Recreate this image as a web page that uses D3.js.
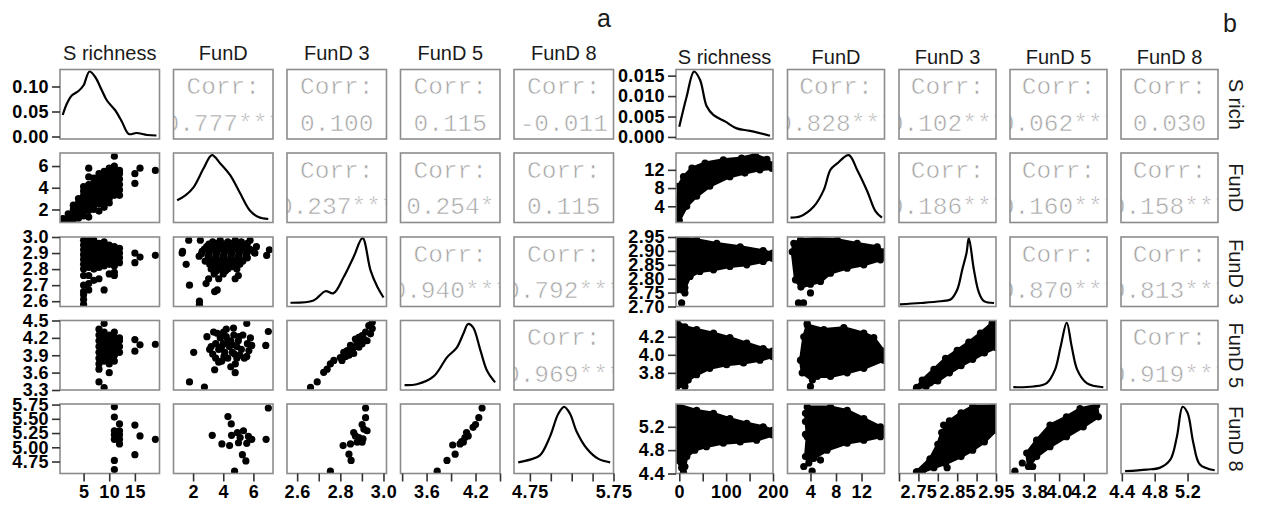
<!DOCTYPE html>
<html><head><meta charset="utf-8">
<script src="https://cdn.jsdelivr.net/npm/d3@7"></script>
<style>
body{margin:0;background:#fff;}
svg{display:block;}
</style></head><body>
<svg id="c" width="1261" height="506"></svg>
<script>
// ================= DATA =================
const headerA = ["S richness","FunD","FunD 3","FunD 5","FunD 8"];
const headerB = ["S richness","FunD","FunD 3","FunD 5","FunD 8"];
const stripB  = ["S rich","FunD","FunD 3","FunD 5","FunD 8"];
const panelTitles = ["a","b"];

// correlation texts [row, col, text]
const corrA = [[0,1,"0.777***"],[0,2,"0.100"],[0,3,"0.115"],[0,4,"-0.011"],
               [1,2,"0.237***"],[1,3,"0.254*"],[1,4,"0.115"],
               [2,3,"0.940***"],[2,4,"0.792***"],[3,4,"0.969***"]];
const corrB = [[0,1,"0.828***"],[0,2,"0.102***"],[0,3,"0.062***"],[0,4,"0.030"],
               [1,2,"0.186***"],[1,3,"0.160***"],[1,4,"0.158***"],
               [2,3,"0.870***"],[2,4,"0.813***"],[3,4,"0.919***"]];

// tick values + labels
const aXticks = [[5,10,15],[2,4,6],[2.6,2.7,2.8,2.9,3.0],[3.3,3.6,3.9,4.2,4.5],[4.75,5.0,5.25,5.5,5.75]];
const aXlabels = [["5","10","15"],["2","4","6"],["2.6","","2.8","","3.0"],["","3.6","","4.2",""],["4.75","","","","5.75"]];
const aYticks = [[0,0.05,0.10],[2,4,6],[2.6,2.7,2.8,2.9,3.0],[3.3,3.6,3.9,4.2,4.5],[4.75,5.0,5.25,5.5,5.75]];
const aYlabels = [["0.00","0.05","0.10"],["2","4","6"],["2.6","2.7","2.8","2.9","3.0"],["3.3","3.6","3.9","4.2","4.5"],["4.75","5.00","5.25","5.50","5.75"]];
const bXticks = [[0,50,100,150,200],[4,8,12],[2.70,2.75,2.80,2.85,2.90,2.95],[3.8,4.0,4.2],[4.4,4.8,5.2]];
const bXlabels = [["0","","100","","200"],["4","8","12"],["","2.75","","2.85","","2.95"],["3.8","4.0","4.2"],["4.4","4.8","5.2"]];
const bYticks = [[0,0.005,0.010,0.015],[4,8,12],[2.70,2.75,2.80,2.85,2.90,2.95],[3.8,4.0,4.2],[4.4,4.8,5.2]];
const bYlabels = [["0.000","0.005","0.010","0.015"],["4","8","12"],["2.70","2.75","2.80","2.85","2.90","2.95"],["3.8","4.0","4.2"],["4.4","4.8","5.2"]];

// ---- matrix a : densities (row 0 = density value, others relative height 0..1)
const aDensS  = [[0.93,0.043],[1.71,0.065],[2.69,0.082],[4.0,0.091],[4.97,0.102],[6.15,0.13],[7.26,0.119],[8.57,0.092],[9.55,0.072],[11.2,0.052],[12.5,0.029],[13.8,0.005],[15.3,0.007],[17.4,0.003],[19.2,0.002]];
const aDensFunD = [[0.94,0.32],[1.49,0.39],[2.04,0.51],[2.7,0.78],[3.25,0.97],[3.8,0.85],[4.46,0.68],[5.12,0.42],[5.78,0.17],[6.33,0.08],[6.99,0.05]];
const aDensF3 = [[2.569,0.054],[2.676,0.087],[2.731,0.22],[2.768,0.19],[2.815,0.42],[2.861,0.71],[2.903,0.985],[2.94,0.52],[2.972,0.28],[3.0,0.13]];
const aDensF5 = [[3.33,0.07],[3.48,0.083],[3.69,0.2],[3.85,0.47],[3.97,0.61],[4.05,0.81],[4.11,0.95],[4.17,0.9],[4.26,0.57],[4.34,0.28],[4.44,0.11]];
const aDensF8 = [[4.61,0.16],[4.75,0.2],[4.87,0.26],[4.99,0.53],[5.09,0.86],[5.16,0.96],[5.23,0.86],[5.31,0.6],[5.43,0.36],[5.57,0.21],[5.71,0.16]];

// ---- matrix a : scatter values. Columns of S richness: [S, [values]]
const aS_FunD = [[1,[1.0,1.15]],[2,[1.05,1.3,1.6]],[3,[1.1,1.4,1.7,2.0,2.4]],[4,[1.2,1.5,1.9,2.3,2.6,3.0]],
  [5,[1.4,1.8,2.2,2.5,2.9,3.3,3.7,4.1]],[6,[1.3,1.9,2.3,2.7,3.1,3.5,3.9,4.3,5.0,5.8]],[7,[2.0,2.4,2.8,3.2,3.6,4.0,4.5,4.9]],
  [8,[1.85,2.5,2.9,3.3,3.7,4.1,4.5,4.9,5.3]],[9,[2.2,2.7,3.1,3.5,3.9,4.3,4.7,5.1,5.5]],[10,[2.6,3.0,3.4,3.8,4.2,4.6,5.0,5.4,5.8]],
  [11,[3.3,3.7,4.1,4.5,4.9,5.3,5.7,6.0,6.9]],[12,[3.3,3.8,4.3,4.8,5.3,5.6]],[15,[4.4,5.3]],[16,[5.8]],[19,[5.6]]];
const aS_F3 = [[5,[2.58,2.61,2.64,2.66,2.70,2.76,2.80,2.83,2.86,2.89,2.92,2.95,2.98]],[6,[2.67,2.71,2.76,2.81,2.84,2.87,2.90,2.93,2.96,2.99]],
  [7,[2.73,2.80,2.83,2.86,2.89,2.92,2.95,2.98]],[8,[2.74,2.81,2.84,2.87,2.90,2.93,2.96]],[9,[2.67,2.82,2.85,2.88,2.91,2.94,2.97]],
  [10,[2.77,2.83,2.86,2.89,2.92,2.95]],[11,[2.76,2.78,2.82,2.85,2.88,2.91,2.94]],[12,[2.84,2.87,2.90,2.93]],[15,[2.84,2.90]],[16,[2.875]],[19,[2.886]]];
const aS_F5 = [[8,[3.44,3.66,3.75,3.85,3.95,4.05,4.15,4.25,4.35]],[9,[3.34,3.80,3.90,4.00,4.10,4.20,4.30,4.45]],
  [10,[3.60,3.75,3.85,3.95,4.05,4.15,4.25]],[11,[3.80,3.90,4.00,4.10,4.20,4.30]],[12,[3.95,4.05,4.15,4.20]],[15,[3.97,4.17]],[16,[4.08]],[19,[4.09]]];
const aS_F8 = [[11,[5.71,5.53,5.29,5.22,5.14,4.77,4.61]],[12,[5.41,5.29,5.22,5.14,5.06]],[15,[5.39,4.87]],[16,[5.2]],[19,[5.14]]];
// pairs [x, y]
const aFunD_F3 = [[1.71,2.98],[2.48,2.98],[5.78,2.98],[3.3,2.97],[3.8,2.98],[4.3,2.97],[4.8,2.98],[5.2,2.97],
  [2.9,2.94],[3.4,2.94],[3.9,2.94],[4.4,2.94],[4.9,2.94],[5.4,2.94],[6.2,2.94],
  [1.3,2.91],[2.6,2.91],[3.1,2.91],[3.6,2.91],[4.1,2.91],[4.6,2.91],[5.1,2.91],[5.6,2.91],[6.0,2.91],[7.06,2.92],
  [1.27,2.90],[2.4,2.88],[3.0,2.88],[3.5,2.88],[4.0,2.88],[4.5,2.88],[5.0,2.88],[5.5,2.88],[6.88,2.885],
  [2.8,2.85],[3.3,2.85],[3.8,2.85],[4.3,2.85],[4.8,2.85],[5.3,2.85],
  [1.54,2.83],[3.1,2.83],[3.6,2.83],[4.1,2.83],[4.6,2.83],[5.1,2.83],
  [3.2,2.80],[3.7,2.80],[4.3,2.80],[4.9,2.80],[3.4,2.77],[4.0,2.77],[5.0,2.76],
  [3.03,2.74],[3.7,2.74],[4.79,2.74],[1.76,2.70],[2.86,2.71],[3.43,2.66],[3.6,2.67],[2.42,2.60],[2.42,2.58],
  [3.05,2.955],[3.55,2.96],[4.05,2.955],[4.55,2.96],[5.05,2.955],[5.6,2.96],[2.75,2.925],[3.25,2.925],[3.75,2.925],
  [4.25,2.925],[4.75,2.925],[5.25,2.925],[5.75,2.925],[2.55,2.895],[3.05,2.895],[3.55,2.895],[4.05,2.895],[4.55,2.895],
  [5.05,2.895],[5.55,2.895],[6.1,2.9],[3.05,2.865],[3.55,2.865],[4.05,2.865],[4.55,2.865],[5.05,2.865],[5.6,2.87],
  [3.35,2.84],[3.85,2.84],[4.35,2.84],[4.85,2.84],[3.45,2.815],[3.95,2.815],[4.55,2.815],[3.55,2.79],[4.15,2.79]];
const aFunD_F5 = [[1.76,3.44],[2.75,3.35],[2.04,3.95],[2.92,4.22],[3.36,4.30],[4.02,4.30],[4.68,4.37],[5.56,4.45],[6.99,4.31],
  [6.82,4.07],[5.89,4.07],[5.56,3.88],[4.79,3.60],[3.43,3.65],[3.2,4.05],[3.3,3.92],[3.5,3.85],[3.5,4.10],[3.7,4.00],
  [3.8,4.20],[3.9,3.80],[4.0,4.10],[4.1,3.95],[4.2,4.22],[4.3,3.85],[4.4,4.05],[4.5,4.15],[4.6,3.95],[4.7,4.25],[4.8,3.75],
  [4.9,4.05],[5.0,4.15],[5.1,3.90],[5.2,4.00],[5.3,4.25],[5.4,3.85],[5.6,4.10],[5.8,4.20],[4.5,3.70],[3.6,4.28],[4.2,4.35],
  [4.9,3.85],[5.7,3.98],[3.1,4.00],[3.9,4.05],[4.3,4.12],[4.6,4.08],[4.75,3.92],[5.05,4.22],[4.05,3.88],[3.7,3.78]];
const aFunD_F8 = [[6.99,5.69],[4.31,5.54],[4.53,5.41],[3.27,5.21],[4.55,5.21],[4.94,5.26],[5.34,5.29],[5.12,5.17],[5.67,5.19],
  [5.89,5.14],[5.56,5.07],[5.01,5.08],[3.91,5.06],[4.42,5.03],[6.84,5.14],[5.27,4.87],[5.5,4.76],[4.75,4.58]];
const aF3_F5 = [[2.662,3.345],[2.693,3.44],[2.723,3.605],[2.739,3.66],[2.754,3.75],[2.77,3.81],[2.808,3.81],[2.824,3.88],
  [2.832,3.98],[2.855,3.98],[2.862,4.04],[2.878,4.12],[2.886,4.21],[2.901,4.24],[2.917,4.30],[2.932,4.41],[2.948,4.36],
  [2.924,4.15],[2.901,4.10],[2.87,4.18],[2.847,4.07],[2.816,3.95],[2.80,3.86],[2.886,4.04],[2.909,4.18],[2.94,4.27],
  [2.948,4.47],[2.862,3.93],[2.84,3.9]];
const aF3_F8 = [[2.754,4.58],[2.84,4.88],[2.85,4.77],[2.813,5.03],[2.847,5.06],[2.862,5.26],[2.87,5.2],[2.878,5.09],
  [2.901,5.09],[2.901,5.40],[2.909,5.32],[2.924,5.29],[2.917,5.52],[2.917,5.69],[2.886,5.17],[2.905,5.15]];
const aF5_F8 = [[3.73,4.58],[3.85,4.77],[3.95,4.88],[3.92,5.04],[4.01,5.06],[4.05,5.09],[4.09,5.26],[4.11,5.20],
  [4.07,5.17],[4.17,5.35],[4.2,5.40],[4.24,5.52],[4.28,5.69],[4.03,5.1]];

// ---- matrix b : densities
const bDensS = [[0,0.0025],[15.8,0.0099],[31.4,0.016],[44.2,0.014],[58.5,0.0075],[72.6,0.0054],[97.6,0.0038],[122.5,0.0021],[151,0.0015],[193.7,0.0003]];
const bDensFunD = [[0.87,0.07],[2.44,0.09],[4.52,0.23],[6.09,0.47],[7.14,0.76],[8.19,0.85],[10.0,0.97],[11.3,0.76],[12.9,0.45],[14.2,0.16],[15.2,0.07]];
const bDensF3 = [[2.7026,0.03],[2.755,0.05],[2.807,0.076],[2.833,0.1],[2.85,0.24],[2.863,0.53],[2.874,0.77],[2.88,0.985],[2.893,0.53],[2.906,0.2],[2.919,0.076],[2.945,0.05]];
const bDensF5 = [[3.627,0.04],[3.79,0.05],[3.899,0.1],[3.966,0.29],[4.013,0.63],[4.062,0.97],[4.102,0.63],[4.148,0.29],[4.225,0.1],[4.36,0.04]];
const bDensF8 = [[4.44,0.033],[4.70,0.057],[4.86,0.081],[4.99,0.2],[5.07,0.53],[5.14,0.96],[5.20,0.87],[5.27,0.44],[5.35,0.13],[5.53,0.047]];

// ---- matrix b : dense point clouds (outline) + separate points
const bS_FunD = [[-5,0.5],[0,0.9],[15.8,4.0],[37,6.2],[65,8.4],[108,10.5],[140,11.3],[172,12.0],[198,12.3],[199,13.1],[187,14.3],[162,15.3],[133,14.6],[94,14.2],[55,13.5],[27,12.4],[9,10.5],[-2,8.4],[-6,2.5]];
const bS_F3 = [[-5,2.95],[37,2.94],[80,2.927],[130,2.915],[179,2.901],[199,2.892],[199,2.874],[179,2.862],[144,2.85],[108,2.844],[73,2.832],[44,2.826],[23,2.808],[12,2.767],[5,2.76],[-5,2.76]];
const bS_F3pts = [[12,2.749],[5,2.713]];
const bS_F5 = [[-5,4.37],[12,4.31],[37,4.28],[73,4.24],[108,4.19],[144,4.13],[179,4.07],[199,4.04],[199,3.98],[172,3.94],[137,3.91],[101,3.89],[65,3.85],[37,3.78],[19,3.72],[12,3.65],[-5,3.65]];
const bS_F8 = [[-5,5.58],[37,5.48],[73,5.43],[108,5.34],[144,5.26],[179,5.20],[199,5.14],[199,5.06],[165,4.97],[130,4.94],[94,4.92],[58,4.86],[33,4.80],[16,4.69],[12,4.52],[5,4.50],[-5,4.63]];
const bS_F8pts = [[9,4.42]];
const bFunD_F3 = [[1.14,2.897],[1.39,2.927],[2.44,2.94],[5.05,2.945],[8.19,2.94],[11.32,2.927],[14.46,2.915],[15.49,2.897],[15.49,2.88],[14.97,2.868],[12.36,2.85],[9.75,2.838],[7.14,2.82],[5.57,2.79],[4.0,2.78],[2.5,2.77],[1.65,2.796]];
const bFunD_F3pts = [[4.0,2.749],[2.12,2.713],[2.91,2.713]];
const bFunD_F5 = [[2.95,4.2],[3.49,4.33],[6.09,4.28],[9.22,4.30],[12.36,4.24],[13.92,4.19],[15.49,4.04],[15.49,3.94],[12.36,3.85],[9.75,3.80],[7.14,3.76],[5.05,3.76],[4.3,3.72],[2.70,3.80],[2.44,3.94]];
const bFunD_F5pts = [[4.0,3.65],[3.49,4.35]];
const bFunD_F8 = [[3.22,5.43],[3.49,5.54],[7.14,5.54],[9.75,5.48],[12.36,5.34],[14.97,5.20],[15.6,5.11],[14.97,5.03],[12.36,4.97],[9.75,4.92],[6.6,4.80],[4.52,4.66],[3.74,4.58],[3.22,4.69],[3.49,5.03]];
const bFunD_F8pts = [[3.22,5.29],[3.22,5.07],[2.95,4.52],[4.26,4.44],[5.57,4.63]];
const bF3_F5 = [[2.745,3.63],[2.76,3.72],[2.79,3.84],[2.82,3.96],[2.85,4.05],[2.88,4.14],[2.91,4.24],[2.94,4.35],[2.95,4.37],[2.95,4.08],[2.92,4.02],[2.89,3.95],[2.86,3.88],[2.83,3.80],[2.80,3.71],[2.77,3.65]];
const bF3_F5pts = [[2.746,3.64],[2.78,3.69]];
const bF3_F8 = [[2.745,4.43],[2.78,4.65],[2.80,4.90],[2.81,5.10],[2.83,5.30],[2.86,5.44],[2.89,5.55],[2.945,5.56],[2.95,5.14],[2.92,4.94],[2.89,4.80],[2.86,4.69],[2.82,4.57],[2.79,4.50],[2.76,4.43]];
const bF3_F8pts = [[2.747,4.43],[2.78,4.63],[2.815,5.23],[2.83,5.29],[2.824,4.50]];
const bF5_F8 = [[3.736,4.75],[3.817,4.97],[3.926,5.23],[4.06,5.37],[4.17,5.51],[4.306,5.57],[4.32,5.37],[4.197,5.2],[4.06,5.03],[3.926,4.86],[3.817,4.69],[3.75,4.52]];
const bF5_F8pts = [[3.64,4.44],[3.70,4.58],[3.785,4.52],[3.76,4.75]];

// ================= LAYOUT =================
const rowTops = [69.5,153,237,320.5,404], rowH = 69.5;
const flatCols = c => c.flatMap(([s,vals]) => vals.map(v => [s,v]));

const matA = {
  cols:[60,173.5,287,400.5,514], w:99.5, headY:60,
  xDom:[[0.4,19.8],[0.7,7.3],[2.553,3.014],[3.28,4.5],[4.56,5.75]],
  yDom:[[-0.005,0.134],[0.8,7.2],[2.567,3.0],[3.3,4.5],[4.54,5.76]],
  header:headerA, corr:corrA,
  diag:[aDensS,aDensFunD,aDensF3,aDensF5,aDensF8],
  lower:{"1,0":{pts:flatCols(aS_FunD)},"2,0":{pts:flatCols(aS_F3)},"3,0":{pts:flatCols(aS_F5)},"4,0":{pts:flatCols(aS_F8)},
         "2,1":{pts:aFunD_F3},"3,1":{pts:aFunD_F5},"4,1":{pts:aFunD_F8},"3,2":{pts:aF3_F5},"4,2":{pts:aF3_F8},"4,3":{pts:aF5_F8}},
  xt:aXticks, xl:aXlabels, yt:aYticks, yl:aYlabels
};
const matB = {
  cols:[676,787.5,899,1010,1121], w:97, headY:64,
  xDom:[[-7,200],[0.4,15.6],[2.70,2.95],[3.6,4.39],[4.39,5.57]],
  yDom:[[-0.0005,0.0165],[0.44,15.7],[2.70,2.95],[3.61,4.38],[4.4,5.59]],
  header:headerB, corr:corrB,
  diag:[bDensS,bDensFunD,bDensF3,bDensF5,bDensF8],
  lower:{"1,0":{poly:bS_FunD,pts:[]},"2,0":{poly:bS_F3,pts:bS_F3pts},"3,0":{poly:bS_F5,pts:[]},"4,0":{poly:bS_F8,pts:bS_F8pts},
         "2,1":{poly:bFunD_F3,pts:bFunD_F3pts},"3,1":{poly:bFunD_F5,pts:bFunD_F5pts},"4,1":{poly:bFunD_F8,pts:bFunD_F8pts},
         "3,2":{poly:bF3_F5,pts:bF3_F5pts},"4,2":{poly:bF3_F8,pts:bF3_F8pts},"4,3":{poly:bF5_F8,pts:bF5_F8pts}},
  xt:bXticks, xl:bXlabels, yt:bYticks, yl:bYlabels
};

const svg = d3.select("#c");
svg.append("rect").attr("width",1261).attr("height",506).attr("fill","#fff");
let clipId = 0;

function drawMatrix(m){
  const g = svg.append("g");
  const xs = m.xDom.map((d,j)=>d3.scaleLinear().domain(d).range([m.cols[j], m.cols[j]+m.w]));
  const ys = m.yDom.map((d,i)=>d3.scaleLinear().domain(d).range([rowTops[i]+rowH, rowTops[i]]));
  for(let i=0;i<5;i++){
    for(let j=0;j<5;j++){
      const x0=m.cols[j], y0=rowTops[i];
      const id="cl"+(clipId++);
      g.append("clipPath").attr("id",id).append("rect").attr("x",x0).attr("y",y0).attr("width",m.w).attr("height",rowH);
      const p = g.append("g").attr("clip-path",`url(#${id})`);
      p.append("rect").attr("x",x0).attr("y",y0).attr("width",m.w).attr("height",rowH).attr("fill","#fff");
      if(i===j){
        const ysc = i===0 ? ys[0] : d3.scaleLinear().domain([0,1]).range([y0+rowH,y0]);
        const line = d3.line().x(d=>xs[j](d[0])).y(d=>ysc(d[1])).curve(d3.curveCatmullRom.alpha(0.5));
        p.append("path").attr("d",line(m.diag[i])).attr("fill","none").attr("stroke","#000").attr("stroke-width",2.2);
      } else if(j>i){
        const c = m.corr.find(d=>d[0]===i&&d[1]===j);
        const cx = x0+m.w/2, cy=y0+rowH/2;
        const t = p.append("text").attr("x",cx).attr("text-anchor","middle")
          .attr("font-family","'Liberation Mono','Courier New',monospace").attr("font-size",24.5)
          .attr("fill","#a4a4a4").attr("stroke","#fff").attr("stroke-width",0.6);
        t.append("tspan").attr("x",cx).attr("y",cy-10).text("Corr:");
        t.append("tspan").attr("x",cx).attr("y",cy+26.5).text(c[2]);
      } else {
        const L = m.lower[i+","+j];
        let pts = L.pts;
        if(L.poly){
          const line = d3.line().x(d=>xs[j](d[0])).y(d=>ys[i](d[1])).curve(d3.curveLinearClosed);
          p.append("path").attr("d",line(L.poly)).attr("fill","#000").attr("stroke","#000")
            .attr("stroke-width",3).attr("stroke-linejoin","round");
          pts = L.poly.concat(L.pts);
        }
        p.selectAll("circle.pt").data(pts).join("circle").attr("class","pt")
          .attr("cx",d=>xs[j](d[0])).attr("cy",d=>ys[i](d[1])).attr("r",3.6).attr("fill","#000");
      }
      g.append("rect").attr("x",x0).attr("y",y0).attr("width",m.w).attr("height",rowH)
        .attr("fill","none").attr("stroke","#8c8c8c").attr("stroke-width",1.6);
    }
    const ay = g.append("g").attr("transform",`translate(${m.cols[0]},0)`)
      .call(d3.axisLeft(ys[i]).tickValues(m.yt[i]).tickSize(8).tickPadding(3).tickFormat((d,k)=>m.yl[i][k]));
    styleAxis(ay);
  }
  for(let j=0;j<5;j++){
    const ax = g.append("g").attr("transform",`translate(0,${rowTops[4]+rowH})`)
      .call(d3.axisBottom(xs[j]).tickValues(m.xt[j]).tickSize(8).tickPadding(4).tickFormat((d,k)=>m.xl[j][k]));
    styleAxis(ax);
    g.append("text").attr("x",m.cols[j]+m.w/2).attr("y",m.headY).attr("text-anchor","middle")
      .attr("font-family","'Liberation Sans',Arial,sans-serif").attr("font-size",20).attr("fill","#1a1a1a").text(m.header[j]);
  }
}
function styleAxis(a){
  a.select(".domain").remove();
  a.selectAll(".tick line").attr("stroke","#333").attr("stroke-width",1.6);
  a.selectAll(".tick text").attr("font-family","'Liberation Sans',Arial,sans-serif").attr("font-size",18)
    .attr("font-weight","bold").attr("letter-spacing","0.4px").attr("fill","#000");
}

drawMatrix(matA);
drawMatrix(matB);

stripB.forEach((s,i)=>{
  const cy = rowTops[i]+rowH/2;
  svg.append("text").attr("transform",`translate(1229,${cy}) rotate(90)`).attr("text-anchor","middle")
    .attr("font-family","'Liberation Sans',Arial,sans-serif").attr("font-size",20).attr("fill","#1a1a1a").text(s);
});
svg.append("text").attr("x",604).attr("y",27).attr("text-anchor","middle")
  .attr("font-family","'Liberation Sans',Arial,sans-serif").attr("font-size",25).attr("fill","#1a1a1a").text(panelTitles[0]);
svg.append("text").attr("x",1230).attr("y",32).attr("text-anchor","middle")
  .attr("font-family","'Liberation Sans',Arial,sans-serif").attr("font-size",25).attr("fill","#1a1a1a").text(panelTitles[1]);
</script>
</body></html>
